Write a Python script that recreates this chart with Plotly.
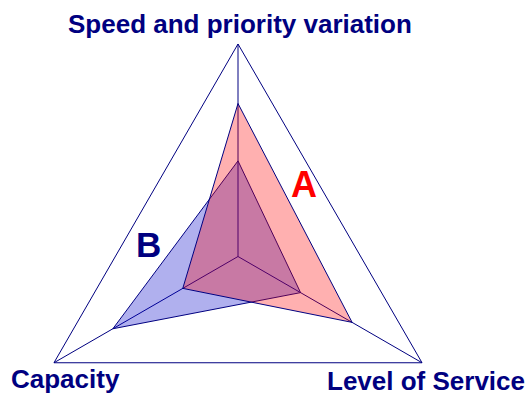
import plotly.graph_objects as go

categories = ["Speed and priority variation", "Level of Service", "Capacity"]
series_a = [0.72, 0.62, 0.30]
series_b = [0.45, 0.34, 0.68]
series_names = ["A", "B"]

NAVY = "#000080"
W, H = 532, 470  # figure taller than window: lower part of polar circle is empty

def closed(v):
    return list(v) + [v[0]]

fig = go.Figure()
fig.add_trace(go.Scatterpolar(
    r=closed(series_b), theta=closed(categories), name=series_names[1],
    mode="lines", fill="toself", fillcolor="rgba(0,0,200,0.31)",
    line=dict(color=NAVY, width=1), hoverinfo="skip"))
fig.add_trace(go.Scatterpolar(
    r=closed(series_a), theta=closed(categories), name=series_names[0],
    mode="lines", fill="toself", fillcolor="rgba(255,0,0,0.31)",
    line=dict(color=NAVY, width=1), hoverinfo="skip"))

cx, cy, R = 238, 256.5, 212.5
fig.update_layout(
    width=W, height=H,
    margin=dict(l=0, r=0, t=0, b=0),
    paper_bgcolor="white", plot_bgcolor="white",
    showlegend=False,
    polar=dict(
        domain=dict(x=[(cx - R) / W, (cx + R) / W],
                    y=[(H - (cy + R)) / H, (H - (cy - R)) / H]),
        gridshape="linear",
        bgcolor="white",
        radialaxis=dict(range=[0, 1], visible=True, showgrid=False,
                        showline=False, showticklabels=False, ticks="",
                        layer="below traces"),
        angularaxis=dict(direction="clockwise", rotation=90,
                         showline=True, linecolor=NAVY, linewidth=1,
                         showgrid=True, gridcolor=NAVY, gridwidth=1,
                         showticklabels=False, ticks="",
                         layer="below traces"),
    ),
)

font_lbl = dict(family="Liberation Sans, Arial", size=26, color=NAVY, weight="bold")
label_pos = [(239.5, 24), (426, 381), (65, 379)]
for name, (px, py) in zip(categories, label_pos):
    fig.add_annotation(text=name, x=px / W, y=(H - py) / H, xref="paper", yref="paper",
                       showarrow=False, xanchor="center", yanchor="middle", font=font_lbl,
                       borderpad=0)

fig.add_annotation(text=series_names[0], x=303.5 / W, y=(H - 184) / H, xref="paper", yref="paper",
                   showarrow=False, xanchor="center", yanchor="middle",
                   font=dict(family="Liberation Sans, Arial", size=36, color="#ff0000", weight="bold"))
fig.add_annotation(text=series_names[1], x=148 / W, y=(H - 245) / H, xref="paper", yref="paper",
                   showarrow=False, xanchor="center", yanchor="middle",
                   font=dict(family="Liberation Sans, Arial", size=35, color=NAVY, weight="bold"))

fig.write_html("out.html", config={"displayModeBar": False},
               post_script="document.documentElement.style.overflow='hidden';document.body.style.overflow='hidden';document.body.style.margin='0';")
